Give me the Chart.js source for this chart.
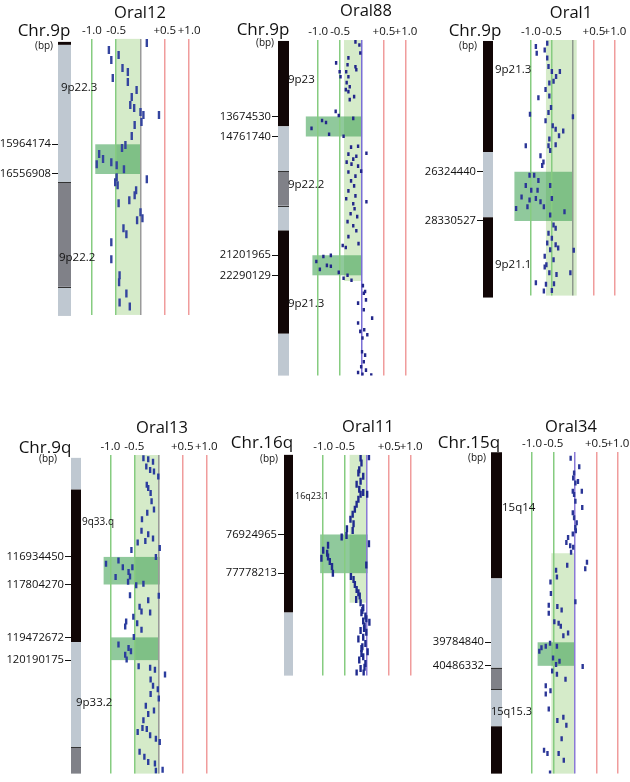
<!DOCTYPE html>
<html>
<head>
<meta charset="utf-8">
<script src="https://cdn.jsdelivr.net/npm/chart.js@4.4.1/dist/chart.umd.min.js"></script>
<style>
  body { margin: 0; background: #fff; width: 630px; height: 782px; overflow: hidden; position: relative; }
  canvas { position: absolute; }
</style>
</head>
<body>
<canvas id="p12"></canvas>
<canvas id="p88"></canvas>
<canvas id="p1"></canvas>
<canvas id="p13"></canvas>
<canvas id="p11"></canvas>
<canvas id="p34"></canvas>
<script>
// ---- shared axis ticks ----
var ratioTicks = [-1, -0.5, 0, 0.5, 1];
var ratioTickLabels = ['-1.0', '-0.5', '', '+0.5', '+1.0'];

// ---- Oral12, Chr.9p (positions in Mb) ----
var oral12Bp = [15964174, 16556908];
var oral12Bands = [[13.92, 13.98, 'gpos100'], [13.98, 16.72, 'gneg'], [16.72, 18.81, 'gpos50'], [18.81, 19.39, 'gneg']];
var oral12BandNames = ['9p22.3', '9p22.2'];
var oral12BandAt = [14.84, 18.23];
var oral12Normal = [-0.5, 0, 13.86, 19.37];
var oral12Loss = [[-0.93, 0, 15.964174, 16.556908]];
var oral12Ratio = [0.13, -0.65, -0.60, -0.45, -0.37, -0.26, -0.57, -0.26, -0.08, -0.18, -0.21, -0.13, 0.00, 0.06, 0.38, 0.02,
  -0.12, -0.18, -0.31, -0.38, -0.85, -0.77, -0.90, -0.60, -0.49, -0.34, -0.49, -0.52, 0.13, -0.47, -0.09, -0.12,
  -0.23, -0.45, 0.00, 0.04, -0.07, -0.35, -0.29, -0.60, -0.60, -0.43, -0.44, -0.29, -0.43, -0.22];
var oral12Pos = [13.94, 14.08, 14.28, 14.18, 14.44, 14.52, 14.64, 14.72, 14.88, 15.02, 15.18, 15.24, 15.32, 15.38, 15.38, 15.52,
  15.58, 15.80, 15.98, 16.04, 16.16, 16.26, 16.36, 16.32, 16.38, 16.46, 16.62, 16.72, 16.66, 16.78, 16.88, 16.98,
  17.08, 17.14, 17.32, 17.44, 17.48, 17.64, 17.76, 17.92, 18.26, 18.58, 18.72, 18.94, 19.12, 19.20];

// ---- Oral88, Chr.9p ----
var oral88Bp = [13674530, 14761740, 21201965, 22290129];
var oral88Bands = [[9.58, 14.21, 'gpos100'], [14.21, 16.63, 'gneg'], [16.63, 18.52, 'gpos50'], [18.52, 19.86, 'gneg'], [19.86, 25.46, 'gpos100'], [25.46, 27.73, 'gneg']];
var oral88BandNames = ['9p23', '9p22.2', '9p21.3'];
var oral88BandAt = [11.68, 17.39, 23.85];
var oral88Normal = [-0.41, 0, 9.53, 22.6];
var oral88Loss = [[-1.28, 0, 13.674530, 14.761740], [-1.13, 0, 21.201965, 22.290129]];
var oral88Ratio = [-0.15, -0.06, -0.04, -0.59, -0.31, -0.33, -0.15, -0.51, -0.49, -0.36, -0.31, -0.13, -0.35, -0.28, -0.31, -0.37,
  -0.18, -0.28, -0.60, -0.53, -0.91, -0.82, -1.15, -0.75, -0.20, -0.42, -0.25, -0.09, 0.10, -0.31, -0.20, -0.13,
  -0.24, -0.35, -0.09, -0.02, -0.31, -0.15, -0.25, -0.18, -0.31, -0.15, -0.36, -0.20, 0.10, -0.17, -0.26, -0.11,
  -0.33, -0.20, -0.13, -0.31, -0.44, -0.37, -0.08, -0.88, -0.71, -1.04, -0.80, -0.71, -0.96, -0.53, -0.42, -0.33,
  -0.24, 0.02, 0.04, 0.07, -0.09, 0.09, 0.04, 0.23, -0.09, 0.05, -0.04, 0.01, 0.12, 0.00, 0.07, 0.04, -0.02, 0.09,
  -0.09, 0.01, 0.21];
var oral88Pos = [9.63, 9.80, 10.23, 10.77, 10.50, 10.87, 10.98, 11.25, 11.52, 11.25, 11.52, 11.14, 11.84, 12.06, 12.33, 12.22,
  12.60, 12.76, 13.40, 13.62, 13.89, 14.00, 14.32, 14.64, 13.78, 14.75, 15.34, 15.29, 15.67, 15.72, 15.99, 15.83,
  16.26, 16.15, 16.37, 16.64, 16.69, 16.91, 17.17, 17.44, 17.71, 17.98, 18.14, 18.41, 18.30, 18.68, 18.95, 19.11,
  19.38, 19.60, 19.87, 20.19, 20.67, 20.78, 20.57, 21.27, 21.21, 21.54, 21.75, 21.80, 21.97, 22.13, 22.45, 22.29,
  22.56, 22.85, 23.26, 23.17, 23.80, 23.62, 24.16, 24.61, 24.88, 25.24, 25.33, 25.69, 25.51, 26.44, 26.62, 26.98, 27.25, 27.43,
  27.56, 27.66, 27.70];

// ---- Oral1, Chr.9p ----
var oral1Bp = [26324440, 28330527];
var oral1Bands = [[20.995, 25.52, 'gpos100'], [25.52, 28.18, 'gneg'], [28.18, 31.45, 'gpos100']];
var oral1BandNames = ['9p21.3', '9p21.1'];
var oral1BandAt = [22.17, 30.12];
var oral1Normal = [-0.64, 0.09, 20.955, 31.37];
var oral1Loss = [[-1.39, 0, 26.324440, 28.330527]];
var oral1Ratio = [-0.88, -0.86, -0.61, -0.67, -0.61, -0.58, -0.50, -0.31, -0.40, -0.46, -0.56, -0.65, -0.82, -0.56, -0.52, -0.58,
  -1.02, 0.00, -0.65, -0.48, -0.41, -0.23, -0.33, -0.56, -0.41, -0.58, -1.12, -0.54, -0.77, -0.70, -0.73, -1.03,
  -0.92, -0.82, -1.12, -0.99, -0.84, -1.22, -1.03, -0.88, -0.77, -1.08, -1.35, -0.69, -0.54, -0.50, -0.20, -0.54,
  -0.46, -0.41, -0.58, -0.50, -0.61, -0.41, -0.54, -0.35, 0.02, -0.67, -0.46, -0.63, -0.67, -0.56, -0.39, -0.06,
  -0.88, -0.64, -0.45, -0.69, -0.50];
var oral1Pos = [21.22, 21.49, 21.09, 21.36, 21.69, 22.03, 22.24, 22.24, 22.44, 22.64, 22.71, 22.97, 23.31, 23.24, 23.71, 23.91,
  23.98, 24.08, 24.25, 24.45, 24.59, 24.66, 24.86, 24.99, 25.22, 25.26, 25.26, 25.46, 25.67, 25.93, 26.07, 26.47,
  26.47, 26.68, 26.88, 27.08, 27.08, 27.35, 27.48, 27.41, 27.55, 27.75, 27.82, 27.75, 26.88, 27.41, 27.95, 28.09,
  28.49, 28.63, 28.83, 29.03, 29.23, 29.30, 29.50, 29.43, 29.52, 29.77, 29.91, 30.11, 30.21, 30.44, 30.51, 30.44,
  30.85, 30.91, 30.89, 31.18, 31.16];

// ---- Oral13, Chr.9q ----
var oral13Bp = [116934450, 117804270, 119472672, 120190175];
var oral13Bands = [[113.81, 114.81, 'gneg'], [114.81, 119.62, 'gpos100'], [119.62, 122.93, 'gneg'], [122.93, 123.77, 'gpos50']];
var oral13BandNames = ['9q33.q', '9p33.2'];
var oral13BandAt = [115.84, 121.52];
var oral13Normal = [-0.5, 0.03, 113.72, 123.77];
var oral13Loss = [[-1.14, 0.03, 116.934450, 117.804270], [-1.0, 0, 119.472672, 120.190175]];
var oral13Ratio = [-0.31, -0.21, -0.11, -0.25, -0.17, 0.00, -0.09, -0.24, -0.16, -0.21, -0.14, -0.09, -0.23, -0.34, -0.35, -0.21,
  -0.11, -0.43, -0.27, -0.56, 0.03, -0.05, -1.09, -0.83, -0.74, -0.89, -0.62, -0.59, -0.63, -0.54, -0.46, -0.31,
  -0.59, 0.01, -0.21, -0.39, -0.35, -0.17, -0.52, -0.67, -0.44, -0.35, -0.69, -0.83, -0.62, -0.57, -0.69, -0.66,
  -0.51, -0.41, -0.17, -0.07, 0.14, -0.16, -0.11, -0.16, -0.01, 0.01, -0.26, -0.09, -0.21, -0.31, -0.43, -0.33,
  -0.24, -0.17, -0.05, 0.03, -0.39, -0.29, -0.21, -0.07, -0.05, 0.09];
var oral13Pos = [113.82, 113.85, 113.93, 114.08, 114.19, 114.40, 114.24, 114.66, 114.92, 114.76, 115.18, 115.44, 115.54, 115.75, 116.11, 116.22,
  116.35, 116.48, 116.43, 116.72, 116.65, 116.94, 117.15, 117.05, 117.26, 117.57, 117.41, 117.55, 117.72, 117.26, 117.83, 117.78,
  118.14, 118.16, 118.30, 118.51, 118.66, 118.69, 118.82, 118.97, 119.03, 119.23, 119.13, 119.70, 119.81, 119.91, 120.02, 120.17,
  119.46, 120.38, 120.43, 120.49, 120.64, 120.80, 121.00, 121.26, 121.11, 121.40, 121.63, 121.78, 121.89, 122.09, 122.46, 122.33,
  122.36, 122.56, 122.67, 122.77, 123.08, 123.24, 123.40, 123.45, 123.68, 123.65];

// ---- Oral11, Chr.16q ----
var oral11Bp = [76924965, 77778213];
var oral11Bands = [[75.17, 78.646, 'gpos100'], [78.646, 80.036, 'gneg']];
var oral11BandNames = ['16q23.1'];
var oral11BandAt = [76.085];
var oral11Normal = [-0.40, 0, 75.17, 78.43];
var oral11Loss = [[-1.07, 0.01, 76.924965, 77.778213]];
var oral11Ratio = [-0.15, -0.13, -0.18, -0.20, -0.09, -0.15, -0.24, -0.18, -0.09, -0.15, -0.20, -0.24, -0.28, -0.33, -0.38, -0.31,
  -0.46, -0.33, 0.00, 0.04, -0.58, -0.47, 0.04, -0.89, -1.00, -0.91, -1.04, -0.85, -0.80, -0.89, -0.02, -0.78,
  -0.37, -0.31, -0.28, -0.24, -0.20, -0.17, -0.25, -0.15, -0.09, -0.13, -0.04, -0.09, 0.05, -0.06, -0.15, -0.02,
  -0.09, -0.20, -0.04, -0.13, 0.01, -0.09, -0.18, -0.04, -0.15, -0.24, -0.08, -0.11, -0.07, -0.11, -0.06, -0.13, -0.02];
var oral11Pos = [75.24, 75.35, 75.50, 75.57, 75.64, 75.75, 75.82, 75.93, 76.00, 76.04, 76.15, 76.26, 76.37, 76.48, 76.59, 76.69,
  76.80, 76.84, 76.04, 75.21, 76.98, 76.95, 77.13, 77.16, 77.27, 77.34, 77.45, 77.52, 77.63, 77.42, 77.60, 77.78,
  77.85, 77.92, 78.03, 78.14, 78.21, 78.28, 78.36, 78.43, 78.54, 78.65, 78.72, 78.83, 78.86, 78.94, 79.04, 79.08,
  79.19, 79.23, 79.33, 79.44, 79.51, 79.62, 79.69, 79.77, 79.88, 79.98, 79.98, 78.60, 79.00, 79.40, 79.85, 79.55, 78.78];

// ---- Oral34, Chr.15q ----
var oral34Bp = [39784840, 40486332];
var oral34Bands = [[34.12, 37.88, 'gpos100'], [37.88, 40.54, 'gneg'], [40.54, 41.18, 'gpos50'], [41.18, 42.29, 'gneg'], [42.29, 43.70, 'gpos100']];
var oral34BandNames = ['15q14', '15q15.3'];
var oral34BandAt = [35.76, 41.86];
var oral34Normal = [-0.55, 0, 37.13, 43.70];
var oral34Loss = [[-0.87, 0, 39.784840, 40.486332]];
var oral34Ratio = [-0.10, 0.10, -0.02, -0.04, 0.01, 0.07, -0.05, -0.02, 0.16, 0.01, 0.17, -0.05, -0.02, 0.04, 0.01, 0.02,
  -0.05, -0.16, -0.20, -0.11, -0.04, -0.09, 0.28, 0.24, -0.18, -0.44, -0.42, -0.57, -0.56, 0.01, -0.61, -0.61,
  -0.41, -0.31, -0.48, -0.38, -0.33, -0.16, -0.27, -0.83, -0.78, -0.68, -0.58, -0.42, -0.51, -0.36, -0.44, -0.53,
  0.18, -0.42, -0.22, -0.68, -0.68, -0.57, -0.61, -0.41, -0.27, -0.20, -0.31, -0.72, -0.64, -0.38, -0.26, -0.58];
var oral34Pos = [34.30, 34.55, 34.74, 34.89, 35.04, 34.99, 35.28, 35.38, 35.28, 35.58, 35.77, 35.92, 36.07, 36.22, 36.36, 36.46,
  36.56, 36.66, 36.81, 36.91, 36.95, 37.10, 37.40, 37.59, 37.49, 37.64, 37.84, 37.99, 38.33, 38.58, 38.68, 38.92,
  38.72, 38.82, 39.17, 39.22, 39.31, 39.51, 39.59, 40.05, 39.95, 39.90, 39.81, 39.90, 40.25, 40.35, 40.45, 40.64,
  40.51, 40.74, 40.89, 41.08, 41.33, 41.23, 41.77, 42.12, 42.02, 42.26, 42.66, 43.00, 43.10, 43.10, 43.30, 43.68];

// ---- styles ----
var FONT = '"Open Sans", "Noto Sans", sans-serif';
var stainColor = { gpos100: '#110606', gneg: '#bfc8d1', gpos50: '#808188' };
var lossGreen = 'rgba(70, 165, 90, 0.6)';
var normalGreen = 'rgba(150, 205, 120, 0.4)';
var lineGreen = '#86cc80';
var lineRed = '#f09c9c';
var dotBlue = '#2b3697';

// draws normal band, loss boxes, chromosome and texts
var ideogramPlugin = {
  id: 'ideogram',
  beforeDraw: function(chart, args, o) {
    var ctx = chart.ctx, xs = chart.scales.x, ys = chart.scales.y, area = chart.chartArea;
    ctx.save();
    // normal range band
    var n = o.normal;
    var nx1 = xs.getPixelForValue(n[0]), nx2 = xs.getPixelForValue(n[1]);
    var ny1 = ys.getPixelForValue(n[2]), ny2 = ys.getPixelForValue(n[3]);
    ctx.fillStyle = normalGreen;
    ctx.fillRect(nx1, ny1, nx2 - nx1, ny2 - ny1);
    // deleted regions
    ctx.fillStyle = lossGreen;
    o.loss.forEach(function(l) {
      var x1 = xs.getPixelForValue(l[0]), x2 = xs.getPixelForValue(l[1]);
      var y1 = ys.getPixelForValue(l[2]), y2 = ys.getPixelForValue(l[3]);
      ctx.fillRect(x1, y1, x2 - x1, y2 - y1);
    });
    // chromosome ideogram
    o.bands.forEach(function(b) {
      var y1 = ys.getPixelForValue(b[0]), y2 = ys.getPixelForValue(b[1]);
      ctx.fillStyle = stainColor[b[2]];
      ctx.fillRect(area.left, y1, o.chrW, y2 - y1);
    });
    ctx.strokeStyle = '#333';
    ctx.lineWidth = 1;
    for (var i = 1; i < o.bands.length; i++) {
      if (o.bands[i][2] != 'gpos100' && o.bands[i - 1][2] != 'gpos100' || o.bands[i][2] == 'gpos50' || o.bands[i - 1][2] == 'gpos50') {
        var yb = Math.round(ys.getPixelForValue(o.bands[i][0])) + 0.5;
        ctx.beginPath();
        ctx.moveTo(area.left, yb);
        ctx.lineTo(area.left + o.chrW, yb);
        ctx.stroke();
      }
    }
    ctx.restore();
  },
  afterDraw: function(chart, args, o) {
    var ctx = chart.ctx, ys = chart.scales.y, area = chart.chartArea;
    ctx.save();
    ctx.fillStyle = '#111';
    ctx.textAlign = 'center';
    ctx.textBaseline = 'alphabetic';
    ctx.font = '16.5px ' + FONT;
    ctx.fillText(o.title, o.titleAt[0], o.titleAt[1]);
    ctx.font = '17px ' + FONT;
    ctx.fillText(o.chr, o.chrAt[0], o.chrAt[1]);
    ctx.font = '10px ' + FONT;
    ctx.fillText('(bp)', o.bpAt[0], o.bpAt[1]);
    ctx.textAlign = 'left';
    ctx.textBaseline = 'middle';
    o.bandNames.forEach(function(name, i) {
      ctx.font = o.labelSize[i] + 'px ' + FONT;
      ctx.fillText(name, area.left + o.labelDx[i], ys.getPixelForValue(o.bandAt[i]));
    });
    ctx.restore();
  }
};

function makePanel(p) {
  var cv = document.getElementById(p.id);
  cv.width = p.w;
  cv.height = p.h;
  cv.style.left = p.left + 'px';
  cv.style.top = p.top + 'px';
  var pts = p.ratio.map(function(r, i) { return { x: r, y: p.pos[i] }; });
  var yAxisW = p.areaLeft - p.left;
  var xAxisH = p.areaTop - p.top;
  var padBottom = p.top + p.h - p.areaBottom;
  var xmin = (p.areaLeft - p.zeroX) / p.ppu;
  var xmax = (p.left + p.w - p.zeroX) / p.ppu;
  // y range from the pixel span of the plot
  var ymin = p.anchorMb - (p.anchorY - p.areaTop) / p.ppm;
  var ymax = p.anchorMb + (p.areaBottom - p.anchorY) / p.ppm;

  return new Chart(cv, {
    type: 'scatter',
    data: {
      datasets: [{
        data: pts,
        showLine: false,
        pointStyle: 'line',
        pointRotation: 90,
        pointRadius: p.dashR,
        pointBorderWidth: 2.4,
        pointBorderColor: p.dotColor || dotBlue,
        borderColor: p.dotColor || dotBlue
      }]
    },
    options: {
      responsive: false,
      animation: false,
      events: [],
      layout: { padding: { left: 0, right: 0, top: 0, bottom: padBottom } },
      plugins: {
        legend: { display: false },
        tooltip: { enabled: false },
        ideogram: {
          normal: p.normal, loss: p.loss, bands: p.bands, chrW: p.chrW,
          title: p.title, titleAt: [p.titleAt[0] - p.left, p.titleAt[1] - p.top],
          chr: p.chr, chrAt: [p.chrAt[0] - p.left, p.chrAt[1] - p.top],
          bpAt: [p.bpAt[0] - p.left, p.bpAt[1] - p.top],
          bandNames: p.bandNames, bandAt: p.bandAt, labelDx: p.labelDx, labelSize: p.labelSize
        }
      },
      scales: {
        x: {
          type: 'linear',
          position: 'top',
          min: xmin,
          max: xmax,
          afterBuildTicks: function(s) { s.ticks = ratioTicks.map(function(v) { return { value: v }; }); },
          afterFit: function(s) { s.height = xAxisH; s.paddingLeft = 0; s.paddingRight = 0; },
          border: { display: false },
          grid: {
            drawTicks: false,
            lineWidth: 1.5,
            color: function(c) {
              var v = c.tick ? c.tick.value : 0;
              return v < 0 ? lineGreen : (v > 0 ? lineRed : p.zeroColor);
            }
          },
          ticks: {
            autoSkip: false,
            maxRotation: 0,
            padding: 1,
            color: '#111',
            font: { family: FONT, size: 11.5 },
            callback: function(v) { return ratioTickLabels[ratioTicks.indexOf(v)]; }
          }
        },
        y: {
          type: 'linear',
          reverse: true,
          min: ymin,
          max: ymax,
          afterBuildTicks: function(s) { s.ticks = p.bp.map(function(v) { return { value: v / 1e6 }; }); },
          afterFit: function(s) { s.width = yAxisW; s.paddingTop = 0; s.paddingBottom = 0; },
          border: { display: false },
          grid: { drawOnChartArea: false, drawTicks: true, tickLength: 6, color: '#111', lineWidth: 1 },
          ticks: {
            padding: 1,
            color: '#111',
            font: { family: FONT, size: 11.2 },
            callback: function(v, i) { return String(p.bp[i]); }
          }
        }
      }
    },
    plugins: [ideogramPlugin]
  });
}

makePanel({ id: 'p12', left: 0, top: 0, w: 215, h: 322, areaLeft: 58, areaTop: 39, areaBottom: 315,
  zeroX: 144, ppu: 50.7, anchorMb: 15.964174, anchorY: 144.3, ppm: 50.1, chrW: 13,
  bp: oral12Bp, bands: oral12Bands, normal: oral12Normal, loss: oral12Loss, ratio: oral12Ratio, pos: oral12Pos,
  title: 'Oral12', titleAt: [140, 18], chr: 'Chr.9p', chrAt: [44, 36], bpAt: [44, 49],
  bandNames: oral12BandNames, bandAt: oral12BandAt, labelDx: [3, 1], labelSize: [11.5, 11.5],
  dashR: 4, zeroColor: '#9a9a9a', dotColor: '#34449f' });

makePanel({ id: 'p88', left: 205, top: 0, w: 215, h: 382, areaLeft: 278, areaTop: 40, areaBottom: 378,
  zeroX: 366, ppu: 46, anchorMb: 13.674530, anchorY: 117, ppm: 18.57, chrW: 11,
  bp: oral88Bp, bands: oral88Bands, normal: oral88Normal, loss: oral88Loss, ratio: oral88Ratio, pos: oral88Pos,
  title: 'Oral88', titleAt: [366, 16], chr: 'Chr.9p', chrAt: [263, 35], bpAt: [265, 46],
  bandNames: oral88BandNames, bandAt: oral88BandAt, labelDx: [10, 10, 10], labelSize: [11.5, 11.5, 11.5],
  dashR: 1.8, zeroColor: '#7a6fd6', dotColor: '#22268a' });

makePanel({ id: 'p1', left: 415, top: 0, w: 215, h: 302, areaLeft: 483, areaTop: 40, areaBottom: 298,
  zeroX: 577, ppu: 44, anchorMb: 26.324440, anchorY: 173, ppm: 24.77, chrW: 10,
  bp: oral1Bp, bands: oral1Bands, normal: oral1Normal, loss: oral1Loss, ratio: oral1Ratio, pos: oral1Pos,
  title: 'Oral1', titleAt: [571, 18], chr: 'Chr.9p', chrAt: [475, 36], bpAt: [468, 49],
  bandNames: oral1BandNames, bandAt: oral1BandAt, labelDx: [12, 12], labelSize: [11.5, 11.5],
  dashR: 2.5, zeroColor: '#8e9a8e', dotColor: '#2b3697' });

makePanel({ id: 'p13', left: 0, top: 400, w: 228, h: 380, areaLeft: 71, areaTop: 455, areaBottom: 777,
  zeroX: 162, ppu: 50, anchorMb: 116.934450, anchorY: 558, ppm: 32.04, chrW: 10,
  bp: oral13Bp, bands: oral13Bands, normal: oral13Normal, loss: oral13Loss, ratio: oral13Ratio, pos: oral13Pos,
  title: 'Oral13', titleAt: [162, 433], chr: 'Chr.9q', chrAt: [45, 453], bpAt: [48, 462],
  bandNames: oral13BandNames, bandAt: oral13BandAt, labelDx: [11, 5], labelSize: [10, 11.5],
  dashR: 3, zeroColor: '#9a9a9a', dotColor: '#2b3d9e' });

makePanel({ id: 'p11', left: 212, top: 400, w: 218, h: 282, areaLeft: 284, areaTop: 455, areaBottom: 679,
  zeroX: 371, ppu: 46, anchorMb: 76.924965, anchorY: 535.7, ppm: 46.07, chrW: 9,
  bp: oral11Bp, bands: oral11Bands, normal: oral11Normal, loss: oral11Loss, ratio: oral11Ratio, pos: oral11Pos,
  title: 'Oral11', titleAt: [368, 432], chr: 'Chr.16q', chrAt: [262, 448], bpAt: [269, 462],
  bandNames: oral11BandNames, bandAt: oral11BandAt, labelDx: [11], labelSize: [9],
  dashR: 3.5, zeroColor: '#8a7ad6', dotColor: '#1f2a8e' });

makePanel({ id: 'p34', left: 422, top: 400, w: 208, h: 380, areaLeft: 491, areaTop: 452, areaBottom: 777,
  zeroX: 579, ppu: 45, anchorMb: 39.784840, anchorY: 644.3, ppm: 33.9, chrW: 11,
  bp: oral34Bp, bands: oral34Bands, normal: oral34Normal, loss: oral34Loss, ratio: oral34Ratio, pos: oral34Pos,
  title: 'Oral34', titleAt: [571, 432], chr: 'Chr.15q', chrAt: [469, 448], bpAt: [477, 461],
  bandNames: oral34BandNames, bandAt: oral34BandAt, labelDx: [11, 0], labelSize: [11.5, 11],
  dashR: 2.5, zeroColor: '#8a7ad6', dotColor: '#2b3697' });
</script>
</body>
</html>
